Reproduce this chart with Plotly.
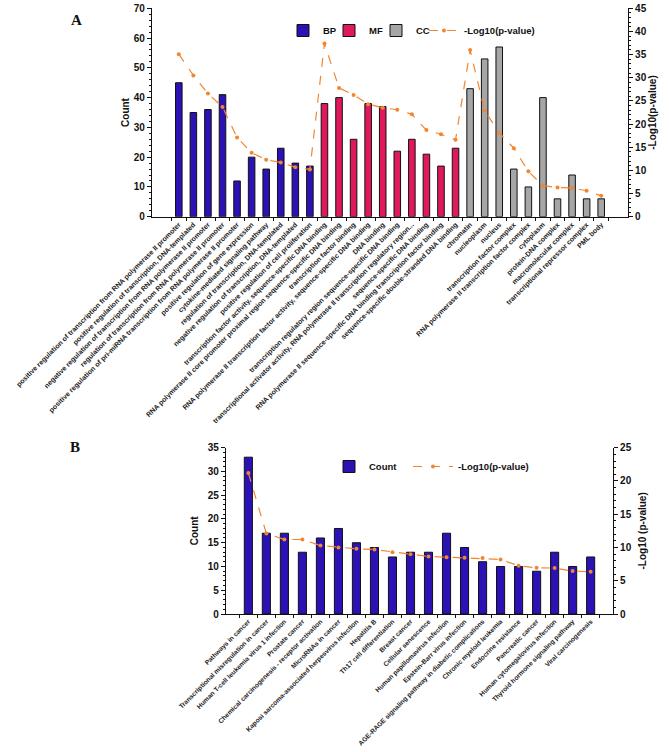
import plotly.graph_objects as go

# ---------------- Panel A data ----------------
bp_terms = [
    "positive regulation of transcription from RNA polymerase II promoter",
    "positive regulation of transcription, DNA-templated",
    "negative regulation of transcription from RNA polymerase II promoter",
    "regulation of transcription from RNA polymerase II promoter",
    "positive regulation of pri-miRNA transcription from RNA polymerase II promoter",
    "positive regulation of gene expression",
    "cytokine-mediated signaling pathway",
    "regulation of transcription, DNA-templated",
    "negative regulation of transcription, DNA-templated",
    "positive regulation of cell proliferation",
]
bp_counts = [45, 35, 36, 41, 12, 20, 16, 23, 18, 17]

mf_terms = [
    "transcription factor activity, sequence-specific DNA binding",
    "RNA polymerase II core promoter proximal region sequence-specific DNA binding",
    "transcription factor binding",
    "RNA polymerase II transcription factor activity, sequence-specific DNA binding",
    "DNA binding",
    "transcription regulatory region sequence-specific DNA binding",
    "transcriptional activator activity, RNA polymerase II transcription regulatory region...",
    "sequence-specific DNA binding",
    "RNA polymerase II sequence-specific DNA binding transcription factor binding",
    "sequence-specific double-stranded DNA binding",
]
mf_counts = [38, 40, 26, 38, 37, 22, 26, 21, 17, 23]

cc_terms = [
    "chromatin",
    "nucleoplasm",
    "nucleus",
    "transcription factor complex",
    "RNA polymerase II transcription factor complex",
    "cytoplasm",
    "protein-DNA complex",
    "macromolecular complex",
    "transcriptional repressor complex",
    "PML body",
]
cc_counts = [43, 53, 57, 16, 10, 40, 6, 14, 6, 6]

go_logp = [35.1, 30.5, 26.6, 23.7, 17.1, 13.8, 12.3, 11.7, 10.7, 10.2,
           37.4, 27.8, 26.3, 24.3, 23.5, 23.1, 22.1, 18.7, 17.8, 16.6,
           36.0, 22.9, 18.1, 14.8, 9.8, 6.7, 6.3, 6.2, 5.6, 4.5]

# ---------------- Panel B data ----------------
kegg_terms = [
    "Pathways in cancer",
    "Transcriptional misregulation in cancer",
    "Human T-cell leukemia virus 1 infection",
    "Prostate cancer",
    "Chemical carcinogenesis - receptor activation",
    "MicroRNAs in cancer",
    "Kaposi sarcoma-associated herpesvirus infection",
    "Hepatitis B",
    "Th17 cell differentiation",
    "Breast cancer",
    "Cellular senescence",
    "Human papillomavirus infection",
    "Epstein-Barr virus infection",
    "AGE-RAGE signaling pathway in diabetic complications",
    "Chronic myeloid leukemia",
    "Endocrine resistance",
    "Pancreatic cancer",
    "Human cytomegalovirus infection",
    "Thyroid hormone signaling pathway",
    "Viral carcinogenesis",
]
kegg_counts = [33, 17, 17, 13, 16, 18, 15, 14, 12, 13, 13, 17, 14, 11, 10, 10, 9, 13, 10, 12]
kegg_logp = [21.2, 12.1, 11.2, 11.2, 10.3, 10.0, 9.8, 9.7, 9.3, 9.0,
             8.65, 8.55, 8.45, 8.4, 8.2, 7.25, 6.95, 6.9, 6.45, 6.35]

# ---------------- styles ----------------
BLUE = "#2A12B4"
PINK = "#E0195E"
GREY = "#A6A6A6"
ORANGE = "#F28530"
FONT = "Liberation Sans"
W, H = 669, 752

def px_x(p):
    return p / W

def px_y(p):
    return 1 - p / H

fig = go.Figure()

bar_line = dict(color="#111111", width=1)
fig.add_trace(go.Bar(x=bp_terms, y=bp_counts, name="BP", marker=dict(color=BLUE, line=bar_line),
                     xaxis="x", yaxis="y", legend="legend", showlegend=True))
fig.add_trace(go.Bar(x=mf_terms, y=mf_counts, name="MF", marker=dict(color=PINK, line=bar_line),
                     xaxis="x", yaxis="y", legend="legend3", showlegend=True))
fig.add_trace(go.Bar(x=cc_terms, y=cc_counts, name="CC", marker=dict(color=GREY, line=bar_line),
                     xaxis="x", yaxis="y", legend="legend4", showlegend=True))
fig.add_trace(go.Scatter(x=bp_terms + mf_terms + cc_terms, y=go_logp, name="-Log10(p-value)",
                         mode="lines+markers",
                         line=dict(color=ORANGE, dash="dash", width=1.2),
                         marker=dict(color=ORANGE, size=4),
                         xaxis="x", yaxis="y2", legend="legend5", showlegend=True))

fig.add_trace(go.Bar(x=kegg_terms, y=kegg_counts, name="Count", marker=dict(color=BLUE, line=bar_line),
                     xaxis="x2", yaxis="y3", legend="legend2", showlegend=True))
fig.add_trace(go.Scatter(x=kegg_terms, y=kegg_logp, name="-Log10(p-value)",
                         mode="lines+markers",
                         line=dict(color=ORANGE, dash="dash", width=1.2),
                         marker=dict(color=ORANGE, size=4),
                         xaxis="x2", yaxis="y4", legend="legend6", showlegend=True))

tick_font = dict(family=FONT, size=10, color="#111111", weight="bold")
cat_font_a = dict(family=FONT, size=7, color="#222222", weight="bold")
cat_font_b = dict(family=FONT, size=6.6, color="#222222", weight="bold")
title_font = dict(family=FONT, size=10, color="#111111", weight="bold")
leg_font = dict(family=FONT, size=9.5, color="#111111", weight="bold")

common_x = dict(type="category", showline=True, linecolor="#111111", linewidth=1.2,
                ticks="outside", tickson="boundaries", ticklen=3, tickcolor="#111111",
                tickangle=-45, showgrid=False, zeroline=False, automargin=False)
common_y = dict(showline=True, linecolor="#111111", linewidth=1.2, ticks="outside",
                ticklen=4, tickcolor="#111111", tickfont=tick_font, showgrid=False,
                zeroline=False, automargin=False)


def leg(left_px, top_px, iw=30):
    return dict(orientation="h", x=px_x(left_px), y=px_y(top_px), xanchor="left",
                yanchor="top", font=leg_font, bgcolor="rgba(0,0,0,0)", itemwidth=iw)


fig.update_layout(
    width=W, height=H,
    showlegend=True,
    margin=dict(l=0, r=0, t=0, b=0, autoexpand=False),
    paper_bgcolor="white", plot_bgcolor="white",
    barmode="overlay", bargap=0.55,
    xaxis=dict(domain=[px_x(152), px_x(628)], anchor="y", tickfont=cat_font_a, **common_x),
    yaxis=dict(domain=[px_y(216.7), px_y(8.3)], range=[0, 70], dtick=10,
               title=dict(text="Count", font=title_font, standoff=2),
               minor=dict(dtick=2, ticks="outside", ticklen=2, tickcolor="#111111"),
               **common_y),
    yaxis2=dict(overlaying="y", side="right", anchor="x", range=[0, 45], dtick=5,
                title=dict(text="-Log10(p-value)", font=title_font, standoff=3),
                minor=dict(dtick=1, ticks="outside", ticklen=2, tickcolor="#111111"),
                **common_y),
    xaxis2=dict(domain=[px_x(226), px_x(613)], anchor="y3", tickfont=cat_font_b, **common_x),
    yaxis3=dict(domain=[px_y(614), px_y(447.7)], anchor="x2", range=[0, 35], dtick=5,
                title=dict(text="Count", font=title_font, standoff=7),
                minor=dict(dtick=1, ticks="outside", ticklen=2, tickcolor="#111111"),
                **common_y),
    yaxis4=dict(overlaying="y3", side="right", anchor="x2", range=[0, 25], dtick=5,
                title=dict(text="-Log10 (p-value)", font=title_font, standoff=8),
                minor=dict(dtick=1, ticks="outside", ticklen=2, tickcolor="#111111"),
                **common_y),
    legend=leg(283, 16),
    legend3=leg(329, 16),
    legend4=leg(376, 16),
    legend5=leg(424, 16),
    legend2=leg(329, 452),
    legend6=leg(408, 452, iw=40),
    annotations=[
        dict(text="A", x=px_x(69), y=px_y(10), xref="paper", yref="paper", showarrow=False,
             font=dict(family="Liberation Serif", size=15, color="#111111", weight="bold")),
        dict(text="B", x=px_x(68), y=px_y(447), xref="paper", yref="paper", showarrow=False,
             font=dict(family="Liberation Serif", size=15, color="#111111", weight="bold")),
    ],
)

fig.write_html("out.html", config={"displayModeBar": False},
               post_script="document.body.style.margin='0px';document.body.style.overflow='hidden';")
